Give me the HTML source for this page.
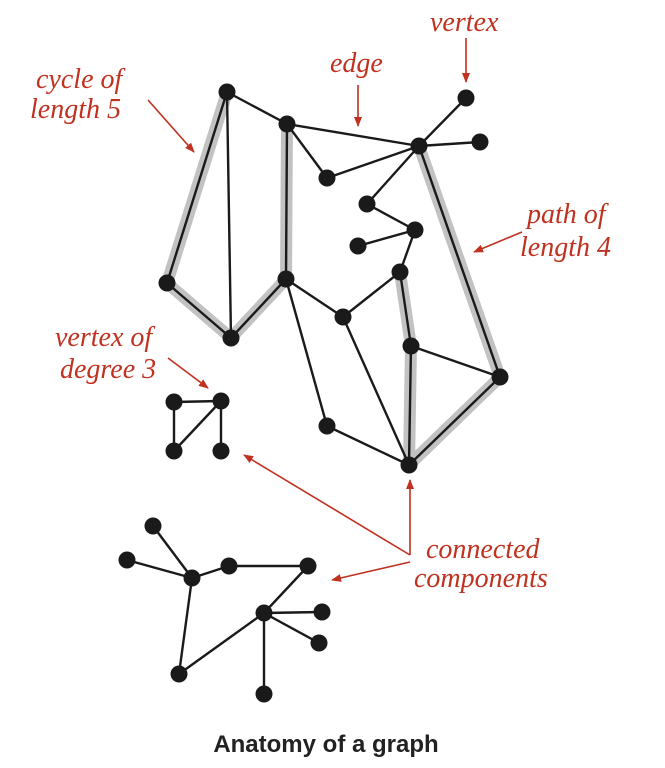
<!DOCTYPE html>
<html><head><meta charset="utf-8"><style>
html,body{margin:0;padding:0;background:#fff;}
svg{display:block;}
.lab{font-family:"Liberation Serif",serif;font-style:italic;font-size:28px;fill:#c0311f;}
.title{font-family:"Liberation Sans",sans-serif;font-weight:bold;font-size:24px;fill:#222;}
</style></head><body>
<svg id="chart" width="665" height="768" viewBox="0 0 665 768" xmlns="http://www.w3.org/2000/svg">
<defs><marker id="ah" markerWidth="10" markerHeight="8" refX="9" refY="4" orient="auto" markerUnits="userSpaceOnUse"><path d="M0,0 L10,4 L0,8 z" fill="#c0311f"/></marker></defs>
<g id="hl"></g><g id="edges"></g><g id="nodes"></g>
<g stroke="#c0311f" stroke-width="1.6" fill="none">
<line x1="358" y1="85" x2="358" y2="126" marker-end="url(#ah)"/>
<line x1="466" y1="38" x2="466" y2="82" marker-end="url(#ah)"/>
<line x1="148" y1="100" x2="194" y2="152" marker-end="url(#ah)"/>
<line x1="522" y1="232" x2="474" y2="252" marker-end="url(#ah)"/>
<line x1="168" y1="358" x2="208" y2="388" marker-end="url(#ah)"/>
<line x1="410" y1="555" x2="244" y2="455" marker-end="url(#ah)"/>
<line x1="410" y1="555" x2="410" y2="480" marker-end="url(#ah)"/>
<line x1="410" y1="562" x2="332" y2="580" marker-end="url(#ah)"/>
</g>
<text class="lab" x="430" y="31">vertex</text>
<text class="lab" x="330" y="72">edge</text>
<text class="lab" x="36" y="88">cycle of</text>
<text class="lab" x="30" y="118">length 5</text>
<text class="lab" x="527" y="223">path of</text>
<text class="lab" x="520" y="256">length 4</text>
<text class="lab" x="55" y="346">vertex of</text>
<text class="lab" x="60" y="378">degree 3</text>
<text class="lab" x="426" y="558">connected</text>
<text class="lab" x="414" y="587">components</text>
<text class="title" x="326" y="752" text-anchor="middle">Anatomy of a graph</text>
</svg>
<script>
const names=["A","B","C","D","E","F","G","H","I","J","K","L","M","N","O","P","Q","R","S1","S2","S3","S4","T1","T2","T3","T4","T5","T6","T7","T8","T9","T10"];
const xs=[227,287,419,466,480,327,367,415,358,400,286,167,231,343,411,500,327,409,174,221,174,221,153,127,192,229,308,264,322,319,179,264];
const ys=[92,124,146,98,142,178,204,230,246,272,279,283,338,317,346,377,426,465,402,401,451,451,526,560,578,566,566,613,612,643,674,694];
const edgeList=["A-B","A-L","A-M","L-M","M-K","K-B","B-C","B-F","F-C","C-D","C-E","C-G","G-H","H-I","H-J","J-N","N-K","N-R","K-Q","Q-R","J-O","O-R","O-P","C-P","P-R","S1-S2","S1-S3","S2-S3","S2-S4","T1-T3","T2-T3","T3-T4","T4-T5","T5-T6","T3-T9","T9-T6","T6-T7","T6-T8","T6-T10"];
const highlighted=["A-L","L-M","M-K","K-B","C-P","P-R","R-O","O-J"];
const NS="http://www.w3.org/2000/svg";
function px(n){return xs[names.indexOf(n)];}
function py(n){return ys[names.indexOf(n)];}
function line(g,e,stroke,w){const [a,b]=e.split("-");const l=document.createElementNS(NS,"line");
l.setAttribute("x1",px(a));l.setAttribute("y1",py(a));l.setAttribute("x2",px(b));l.setAttribute("y2",py(b));
l.setAttribute("stroke",stroke);l.setAttribute("stroke-width",w);l.setAttribute("stroke-linecap","round");
g.appendChild(l);return l;}
const hl=document.getElementById("hl");
highlighted.forEach(e=>{const l=line(hl,e,"#c2c2c2",12);

});
const eg=document.getElementById("edges");
edgeList.forEach(e=>{const l=line(eg,e,"#1a1a1a",2.4);

});
const ng=document.getElementById("nodes");
names.forEach((n,i)=>{const c=document.createElementNS(NS,"circle");
c.setAttribute("cx",xs[i]);c.setAttribute("cy",ys[i]);c.setAttribute("r",8.5);c.setAttribute("fill","#1a1a1a");


ng.appendChild(c);});
</script>
</body></html>
